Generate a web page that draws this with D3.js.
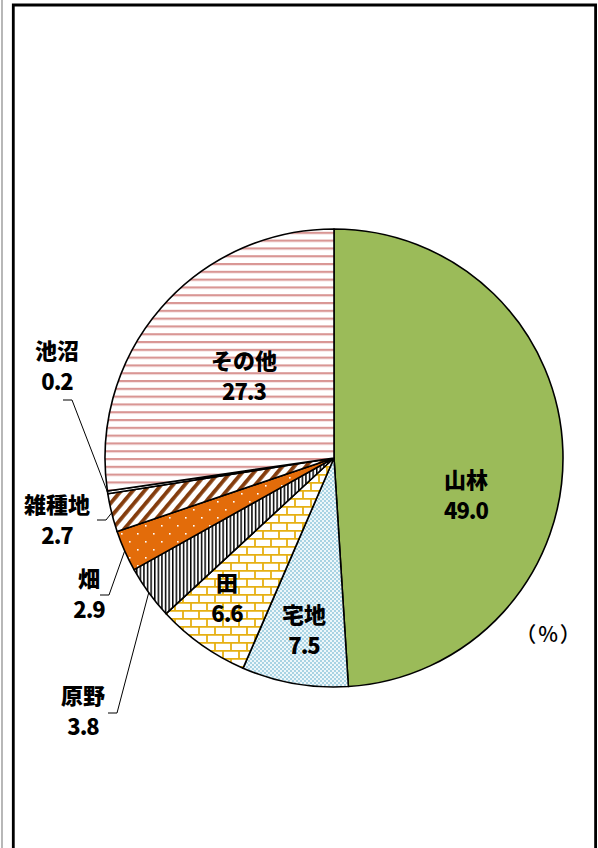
<!DOCTYPE html>
<html>
<head>
<meta charset="utf-8">
<script src="https://cdn.jsdelivr.net/npm/d3@7"></script>
<style>
  body { margin: 0; background: #fff; }
  svg text { font-family: "Noto Sans CJK JP", "Noto Sans", sans-serif; font-weight: 900; }
</style>
</head>
<body>
<svg id="chart"></svg>
<script>
// data (%), clockwise from 12 o'clock
const categories = ["山林", "宅地", "田", "原野", "畑", "雑種地", "池沼", "その他"];
const values = [49.0, 7.5, 6.6, 3.8, 2.9, 2.7, 0.2, 27.3];
const valueLabels = ["49.0", "7.5", "6.6", "3.8", "2.9", "2.7", "0.2", "27.3"];

// label placement: [x, y of first line], outside = with leader line
const labelPos = {
  "山林": {x: 466, y: 480},
  "宅地": {x: 304, y: 615},
  "田": {x: 227, y: 583},
  "その他": {x: 244, y: 361},
  "原野": {x: 83, y: 696, outside: true, lx: 108, ly: 713},
  "畑": {x: 89, y: 579, outside: true, lx: 100, ly: 595},
  "雑種地": {x: 57, y: 505, outside: true, lx: 97, ly: 520},
  "池沼": {x: 57, y: 351, outside: true, lx: 63, ly: 400}
};

const width = 598, height = 848;
const cx = 334, cy = 458, r = 229;

const svg = d3.select("#chart").attr("width", width).attr("height", height);
const defs = svg.append("defs");

// patterns
// その他: pink horizontal stripes
const pOther = defs.append("pattern").attr("id", "pOther")
  .attr("patternUnits", "userSpaceOnUse").attr("width", 8).attr("height", 7.8);
pOther.append("rect").attr("width", 8).attr("height", 7.8).attr("fill", "#fff");
pOther.append("rect").attr("y", 0).attr("width", 8).attr("height", 2.2).attr("fill", "#d99694");

// 宅地: light blue small checker
const pTaku = defs.append("pattern").attr("id", "pTaku")
  .attr("patternUnits", "userSpaceOnUse").attr("width", 4).attr("height", 4);
pTaku.append("rect").attr("width", 4).attr("height", 4).attr("fill", "#eef7fa");
pTaku.append("rect").attr("width", 2).attr("height", 2).attr("fill", "#a9d3e3");
pTaku.append("rect").attr("x", 2).attr("y", 2).attr("width", 2).attr("height", 2).attr("fill", "#a9d3e3");

// 田: gold brick
const pTa = defs.append("pattern").attr("id", "pTa")
  .attr("patternUnits", "userSpaceOnUse").attr("width", 16).attr("height", 16);
pTa.append("rect").attr("width", 16).attr("height", 16).attr("fill", "#fff");
pTa.append("path")
  .attr("d", "M0,0.8H16M0,8.8H16M1,0V8M9,8V16")
  .attr("stroke", "#e6b012").attr("stroke-width", 1.8).attr("fill", "none");

// 原野: black vertical lines
const pGen = defs.append("pattern").attr("id", "pGen")
  .attr("patternUnits", "userSpaceOnUse").attr("width", 3.6).attr("height", 4);
pGen.append("rect").attr("width", 3.6).attr("height", 4).attr("fill", "#fff");
pGen.append("rect").attr("width", 1.5).attr("height", 4).attr("fill", "#000");

// 畑: orange with white dots
const pHata = defs.append("pattern").attr("id", "pHata")
  .attr("patternUnits", "userSpaceOnUse").attr("width", 16).attr("height", 16);
pHata.append("rect").attr("width", 16).attr("height", 16).attr("fill", "#e36c0a");
[[3, 3], [11, 11]].forEach(([x, y]) =>
  pHata.append("rect").attr("x", x).attr("y", y).attr("width", 1.6).attr("height", 1.6).attr("fill", "#fff"));

// 雑種地: brown wide diagonal stripes
const pZatsu = defs.append("pattern").attr("id", "pZatsu")
  .attr("patternUnits", "userSpaceOnUse").attr("width", 9).attr("height", 9)
  .attr("patternTransform", "rotate(40)");
pZatsu.append("rect").attr("width", 9).attr("height", 9).attr("fill", "#fff");
pZatsu.append("rect").attr("width", 3.8).attr("height", 9).attr("fill", "#843c0c");

const fills = {
  "山林": "#9bbb59",
  "宅地": "url(#pTaku)",
  "田": "url(#pTa)",
  "原野": "url(#pGen)",
  "畑": "url(#pHata)",
  "雑種地": "url(#pZatsu)",
  "池沼": "#ffffff",
  "その他": "url(#pOther)"
};

// frame
svg.append("line").attr("x1", 2).attr("x2", 2).attr("y1", 0).attr("y2", height)
  .attr("stroke", "#888").attr("stroke-width", 1.2);
svg.append("path")
  .attr("d", `M13.3,${height}V5H595.6V${height}`)
  .attr("fill", "none").attr("stroke", "#000").attr("stroke-width", 2.8);

// pie
const data = categories.map((c, i) => ({name: c, value: values[i], label: valueLabels[i]}));
const pie = d3.pie().value(d => d.value).sort(null);
const arcs = pie(data);
const arc = d3.arc().innerRadius(0).outerRadius(r);

const g = svg.append("g").attr("transform", `translate(${cx},${cy})`);
g.selectAll("path.slice")
  .data(arcs)
  .join("path")
  .attr("class", "slice")
  .attr("d", arc)
  .attr("fill", d => fills[d.data.name])
  .attr("stroke", "#000")
  .attr("stroke-width", 1.6)
  .attr("stroke-linejoin", "round");

// leader lines
arcs.forEach(d => {
  const p = labelPos[d.data.name];
  if (!p.outside) return;
  const a = (d.startAngle + d.endAngle) / 2;
  const ex = cx + r * Math.sin(a), ey = cy - r * Math.cos(a);
  svg.append("polyline")
    .attr("points", `${p.lx},${p.ly} ${p.lx + 9},${p.ly} ${ex},${ey}`)
    .attr("fill", "none").attr("stroke", "#000").attr("stroke-width", 1);
});

// labels
arcs.forEach(d => {
  const p = labelPos[d.data.name];
  const t = svg.append("text")
    .attr("text-anchor", "middle")
    .attr("font-size", 22)
    .attr("fill", "#000");
  t.append("tspan").attr("x", p.x).attr("y", p.y).attr("dy", "0.35em").text(d.data.name);
  t.append("tspan").attr("x", p.x).attr("y", p.y + 31).attr("dy", "0.35em")
    .attr("font-size", 22).attr("letter-spacing", "-1").text(d.data.label);
});

svg.append("text")
  .attr("x", 549).attr("y", 635).attr("dy", "0.35em")
  .attr("text-anchor", "middle")
  .attr("font-size", 21)
  .attr("letter-spacing", "2")
  .style("font-weight", "500")
  .text("（%）");
</script>
</body>
</html>
